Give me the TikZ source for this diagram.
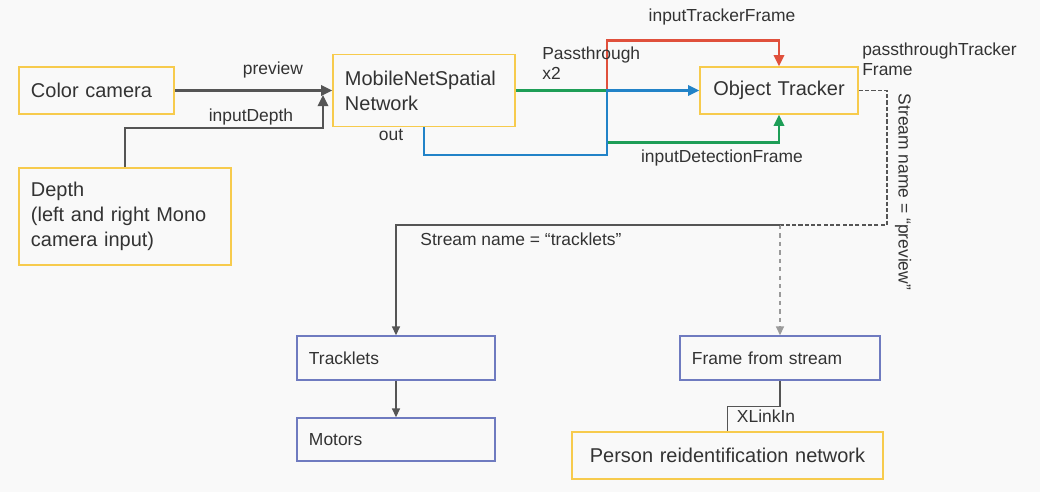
\documentclass[tikz,border=0pt]{standalone}
\usepackage{fontspec}
\setmainfont{Liberation Sans}
\usetikzlibrary{positioning,arrows.meta}

\definecolor{bgcol}{HTML}{F9F9F9}
\definecolor{txt}{HTML}{333333}
\definecolor{boxyel}{HTML}{F7CB4D}
\definecolor{boxblu}{HTML}{6F7BC0}
\definecolor{lgray}{HTML}{555555}
\definecolor{dgray}{HTML}{9A9A9A}
\definecolor{arrred}{HTML}{E0503C}
\definecolor{arrgrn}{HTML}{1E9E57}
\definecolor{arrblu}{HTML}{2283C8}

\begin{document}
\begin{tikzpicture}[
  x=0.025cm, y=-0.025cm,
  font=\fontsize{14.2}{17.8}\selectfont,
  box/.style={rectangle, draw=boxyel, line width=1.1pt, inner xsep=3mm,
              inner ysep=0pt, align=left, text=txt},
  sink/.style={box, draw=boxblu, font=\fontsize{12.4}{15}\selectfont},
  lbl/.style={font=\fontsize{12.4}{14.2}\selectfont, text=txt, inner sep=0pt},
  arr/.style={-{Triangle[length=2.8mm, width=2.6mm]}, line width=1.6pt, color=lgray},
  arrs/.style={-{Triangle[length=2.2mm, width=2mm]}, line width=1pt, color=lgray},
  dline/.style={line width=1.1pt, color=lgray, dash pattern=on 3pt off 1.5pt}
]
\fill[bgcol] (0,0) rectangle (1040,492);
\useasboundingbox (0,0) rectangle (1040,492);

% inputs
\node[box, text width=3.275cm, minimum height=1.175cm] (cam) at (96.5,90.5) {Color camera};
\node[box, text width=4.7cm, minimum height=2.425cm] (depth) at (125,216.5)
  {Depth\\(left and right Mono\\camera input)};

% detection and tracking
\node[box, text width=3.95cm, minimum height=1.8cm] (mnet) at (424,90.5) {MobileNetSpatial\\Network};
\node[box, text width=3.35cm, minimum height=1.175cm, align=center] (tracker) at (779,90.5) {Object Tracker};

% host side
\node[sink, text width=4.35cm, minimum height=1.1cm] (tracklets) at (396,358) {Tracklets};
\node[sink, text width=4.35cm, minimum height=1.075cm] (motors) at (396,439.5) {Motors};
\node[sink, text width=4.4cm, minimum height=1.1cm] (frame) at (780,358) {Frame from stream};
\node[box, text width=7.175cm, minimum height=1.175cm, align=center] (reid) at (727.5,455.5)
  {Person reidentification network};

\coordinate (din) at (323,95);
\coordinate (split) at (607,90.5);
\coordinate (fork) at (780,225);

% links into the network
\draw[arr] (cam.east) -- (mnet.west);
\draw[arr] (depth.north) -- ++(0,-39) -| (din);

% passthrough and out
\draw[arr, color=arrred] (split) -- ++(0,-50) -| (tracker.north);
\draw[arr, color=arrgrn] (mnet.east) -- (split) -- ++(0,52) -| (tracker.south);
\draw[arr, color=arrblu] (mnet.south) -- ++(0,28) -| (split) -- (tracker.west);

% streams
\draw[dline] (tracker.east) -- ++(28,0) |- (fork);
\draw[arrs, color=dgray, dash pattern=on 3pt off 3pt] (fork) -- (frame.north);
\draw[arrs] (fork) -| (tracklets.north);
\draw[arrs] (tracklets) -- (motors);
\draw[line width=1pt, color=lgray] (frame.south) -- ++(0,26) -| (reid.north);

% labels
\node[lbl] (lprev) at (273,70) {preview};
\node[lbl] (ldepth) at (251,117) {inputDepth};
\node[lbl, align=left, anchor=west] (lpass) at (542,63) {Passthrough\\x2};
\node[lbl] (lout) at (391,135) {out};
\node[lbl] (ltf) at (722,17) {inputTrackerFrame};
\node[lbl] (ldf) at (722,158) {inputDetectionFrame};
\node[lbl, align=left, anchor=west] (lptf) at (862,59) {passthroughTracker\\Frame};
\node[lbl] (ltr) at (521,239) {Stream name = “tracklets”};
\node[lbl, rotate=-90] (lpv) at (903,192) {Stream name = “preview”};
\node[lbl] (lxl) at (766,416) {XLinkIn};
\end{tikzpicture}
\end{document}
